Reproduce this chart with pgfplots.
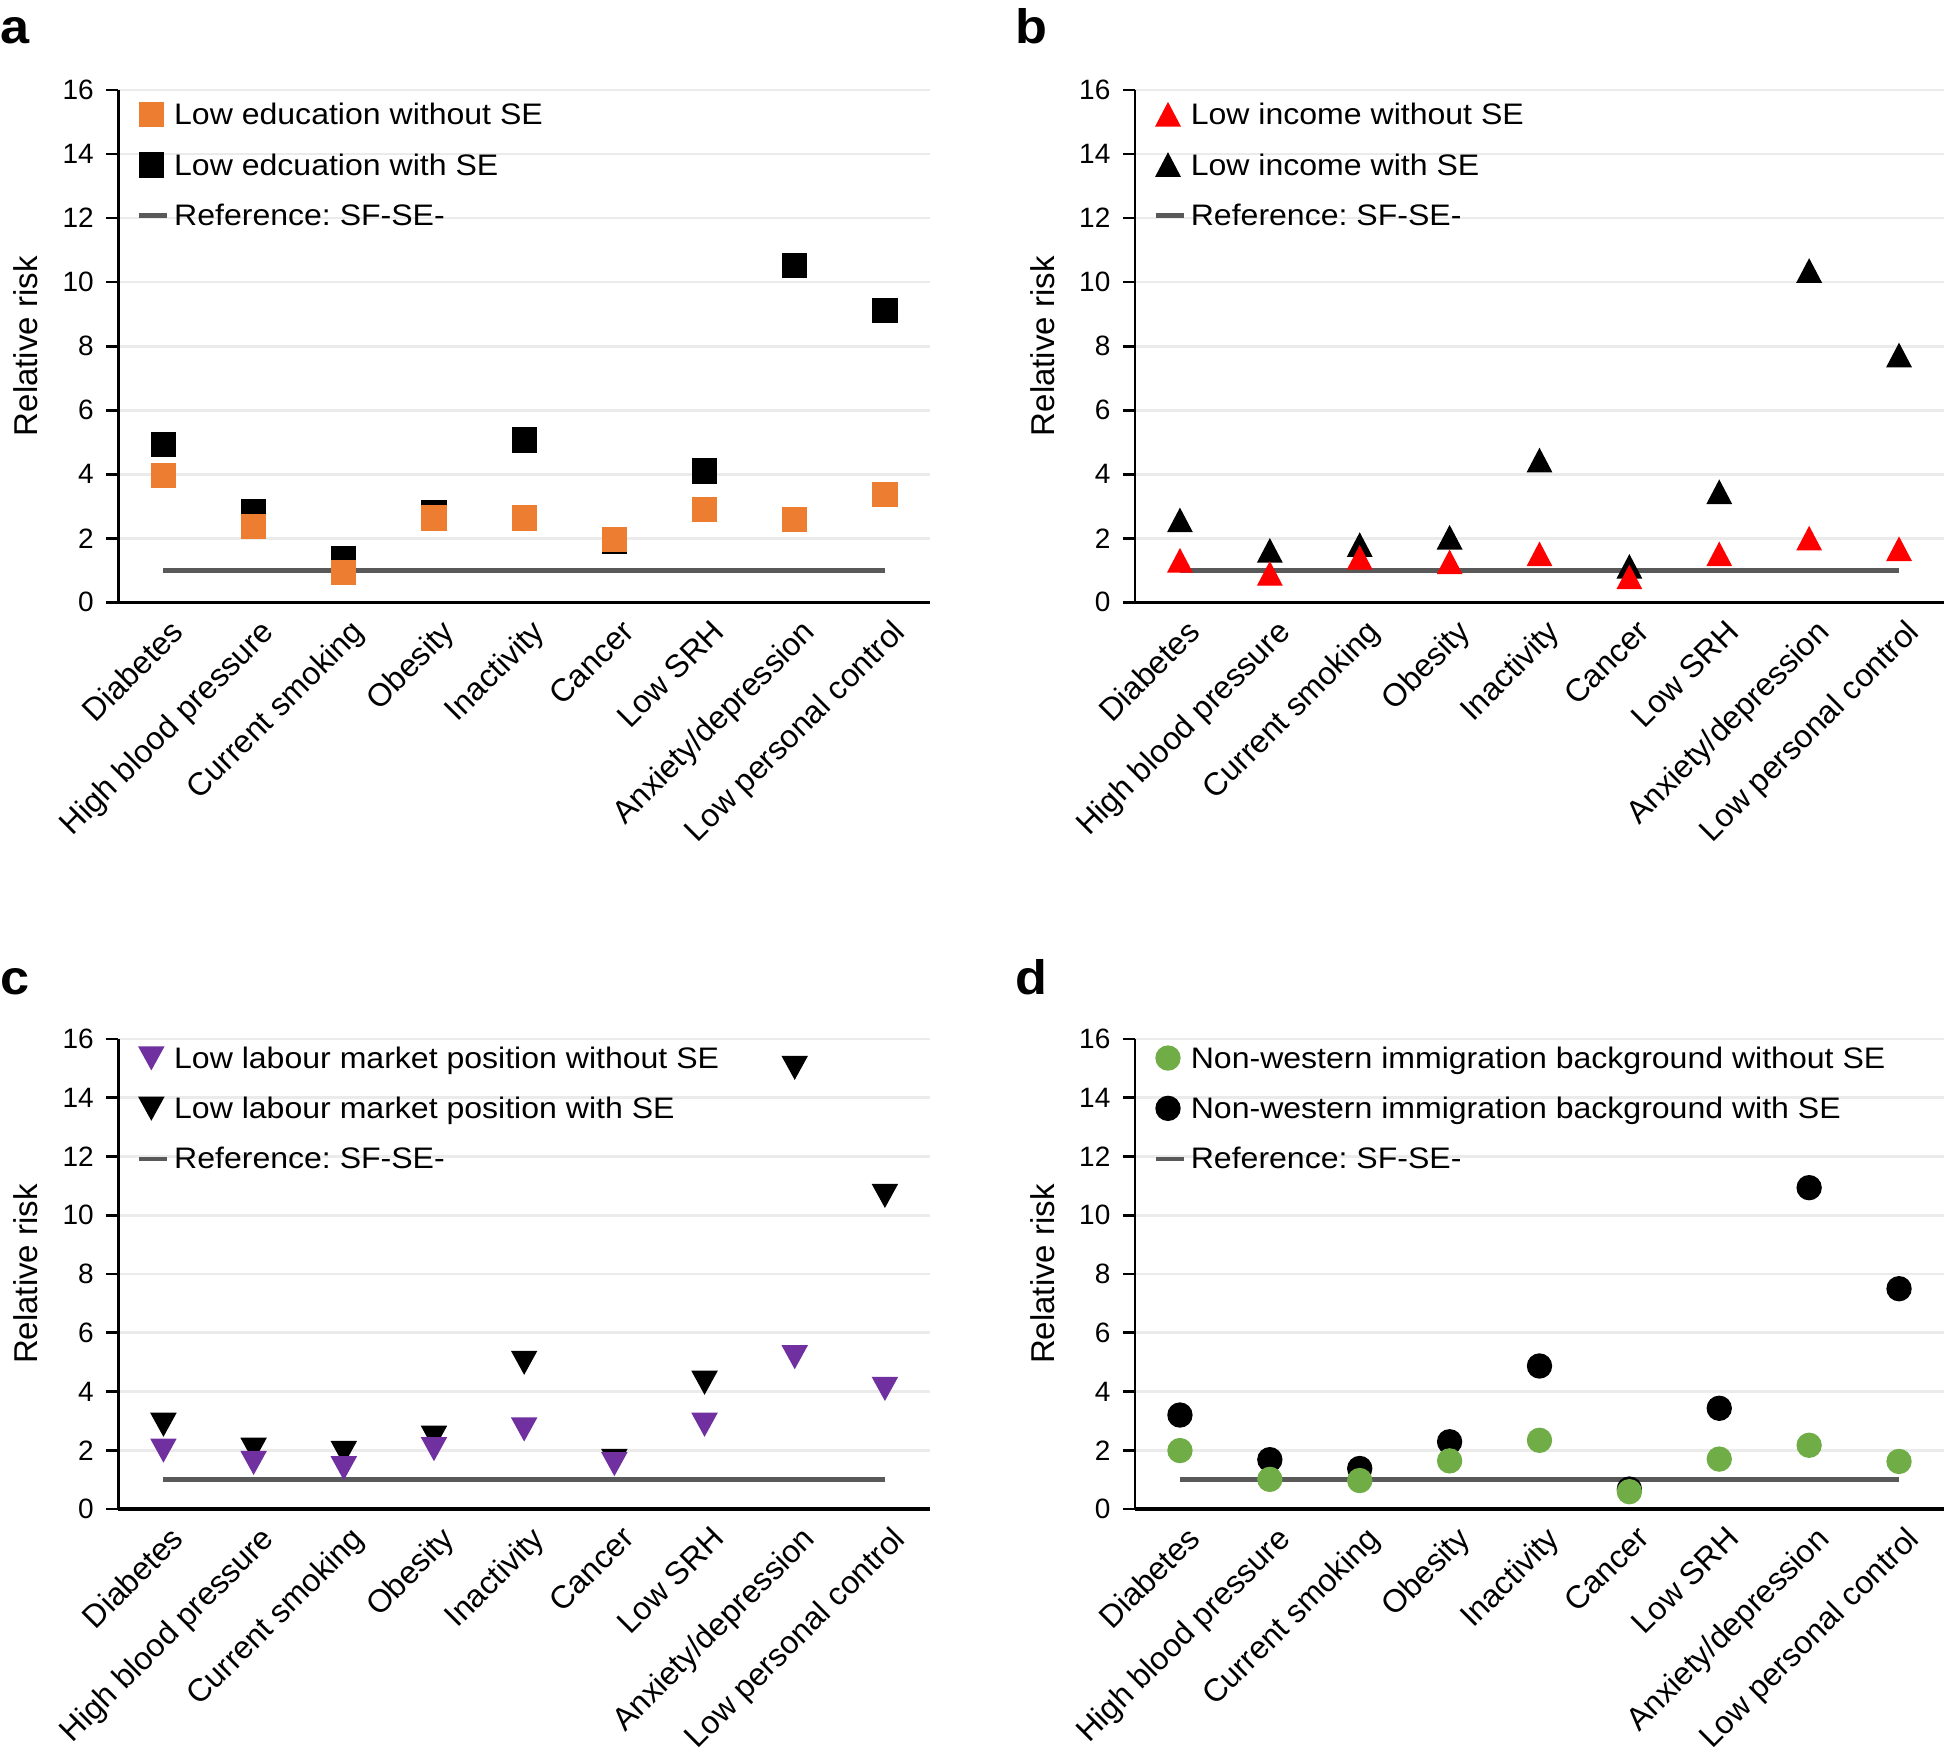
\documentclass[border=0pt]{standalone}
\usepackage{fontspec}
\setmainfont{Liberation Sans}
\newfontfamily\widefont[FakeStretch=1.08]{Liberation Sans}
\usepackage{pgfplots}
\pgfplotsset{compat=1.18}
\frenchspacing

\definecolor{cOrange}{HTML}{ED7D31}
\definecolor{cRed}{HTML}{FF0000}
\definecolor{cPurple}{HTML}{7030A0}
\definecolor{cGreen}{HTML}{70AD47}
\definecolor{cRef}{HTML}{595959}
\definecolor{cGrid}{HTML}{EBEBEB}

\pgfplotsset{
  legmark/.style={legend image code/.code={%
     \path[draw=none, fill=none] (0pt,-4.5pt) rectangle (10.6pt,4.5pt);
     \draw[##1] plot coordinates {(3.75pt,0pt)};}},
  legline/.style={legend image code/.code={%
     \path[draw=none, fill=none] (0pt,-4.5pt) rectangle (10.6pt,4.5pt);
     \draw[##1] (0pt,0pt) -- (8.4pt,0pt);}},
  panel/.style={
    scale only axis,
    xmin=-0.5, xmax=8.5, ymin=0, ymax=16,
    ytick={0,2,...,16},
    xtick={0,...,8},
    xticklabels={Diabetes, High blood pressure, Current smoking, Obesity, Inactivity, Cancer, Low SRH, Anxiety/depression, Low personal control},
    axis lines*=left,
    x axis line style={line width=1.1pt},
    y axis line style={line width=0.8pt},
    tick align=outside,
    major tick length=3.6pt,
    xtick style={draw=none},
    ytick style={line width=0.8pt, black},
    ymajorgrids,
    major grid style={cGrid, line width=0.8pt},
    /pgf/number format/assume math mode=true,
    yticklabel style={font=\fontsize{8.4}{10}\selectfont, inner sep=3.6pt},
    xticklabel style={font=\fontsize{9.6}{11}\selectfont, rotate=45, anchor=north east, inner sep=0pt, xshift=0.6pt, yshift=-1.7pt},
    ylabel={Relative risk},
    every axis y label/.style={at={(axis description cs:-0.1136,0.5)}, rotate=90, anchor=center, font=\fontsize{9.9}{11}\selectfont},
    legend cell align=left,
    reverse legend,
    legend style={draw=none, fill=none, at={(axis description cs:0,1)}, anchor=north west,
      inner sep=0pt, outer sep=0pt, row sep=6.1pt, column sep=0pt, xshift=5.5pt,
      font=\widefont\fontsize{8.9}{10}\selectfont,
      nodes={inner sep=0pt, text height=6pt, text depth=0pt}},
  },
  refline/.style={cRef, line width=1.3pt, legline},
  sq/.style={only marks, mark=square*, mark size=3.6pt, legmark},
  tru/.style={only marks, mark=triangle*, mark size=4.1pt, mark options={yshift=-1.1pt, yscale=1.1}, legmark},
  trd/.style={only marks, mark=triangle*, mark size=4.2pt, mark options={yshift=1.1pt, yscale=1.05, rotate=180}, legmark},
  circ/.style={only marks, mark=*, mark size=3.6pt, legmark},
}

\begin{document}
\begin{tikzpicture}
\useasboundingbox (0pt,0pt) rectangle (583.8pt,-525.6pt);

% ---------- a ----------
\begin{axis}[panel, at={(35.5pt,-180.7pt)}, anchor=south west, width=243.5pt, height=153.7pt,
  legend style={yshift=-2.9pt}]
\addplot[refline] coordinates {(0,1) (8,1)};
\addlegendentry{Reference: SF-SE-}
\addplot[sq, black] coordinates {(0,4.93) (1,2.83) (2,1.35) (3,2.80) (4,5.07) (5,1.91) (6,4.10) (7,10.52) (8,9.12)};
\addlegendentry{Low edcuation with SE}
\addplot[sq, cOrange] coordinates {(0,3.97) (1,2.37) (2,0.94) (3,2.63) (4,2.63) (5,1.96) (6,2.90) (7,2.59) (8,3.36)};
\addlegendentry{Low education without SE}
\end{axis}

% ---------- b ----------
\begin{axis}[panel, at={(340.5pt,-180.7pt)}, anchor=south west, width=242.7pt, height=153.7pt,
  legend style={yshift=-2.9pt}]
\addplot[refline] coordinates {(0,1) (8,1)};
\addlegendentry{Reference: SF-SE-}
\addplot[tru, black] coordinates {(0,2.56) (1,1.61) (2,1.79) (3,2.02) (4,4.43) (5,1.11) (6,3.44) (7,10.35) (8,7.71)};
\addlegendentry{Low income with SE}
\addplot[tru, cRed] coordinates {(0,1.30) (1,0.89) (2,1.39) (3,1.25) (4,1.50) (5,0.78) (6,1.50) (7,1.99) (8,1.66)};
\addlegendentry{Low income without SE}
\end{axis}

% ---------- c ----------
\begin{axis}[panel, at={(35.5pt,-452.7pt)}, anchor=south west, width=243.5pt, height=141pt,
  legend style={yshift=-1.2pt}]
\addplot[refline] coordinates {(0,1) (8,1)};
\addlegendentry{Reference: SF-SE-}
\addplot[trd, black] coordinates {(0,2.88) (1,2.03) (2,1.92) (3,2.44) (4,4.99) (5,1.65) (6,4.31) (7,15.03) (8,10.67)};
\addlegendentry{Low labour market position with SE}
\addplot[trd, cPurple] coordinates {(0,2.00) (1,1.58) (2,1.40) (3,2.05) (4,2.72) (5,1.54) (6,2.88) (7,5.18) (8,4.10)};
\addlegendentry{Low labour market position without SE}
\end{axis}

% ---------- d ----------
\begin{axis}[panel, at={(340.5pt,-452.7pt)}, anchor=south west, width=242.7pt, height=141pt,
  legend style={yshift=-1.2pt}]
\addplot[refline] coordinates {(0,1) (8,1)};
\addlegendentry{Reference: SF-SE-}
\addplot[circ, black] coordinates {(0,3.20) (1,1.68) (2,1.38) (3,2.29) (4,4.87) (5,0.68) (6,3.43) (7,10.94) (8,7.50)};
\addlegendentry{Non-western immigration background with SE}
\addplot[circ, cGreen] coordinates {(0,1.99) (1,1.01) (2,0.97) (3,1.64) (4,2.34) (5,0.59) (6,1.70) (7,2.17) (8,1.62)};
\addlegendentry{Non-western immigration background without SE}
\end{axis}

% panel letters
\node[anchor=base west, inner sep=0pt, font=\widefont\fontsize{14.5}{16}\selectfont\bfseries] at (0pt,-12.9pt) {a};
\node[anchor=base west, inner sep=0pt, font=\widefont\fontsize{14.5}{16}\selectfont\bfseries] at (304.5pt,-12.9pt) {b};
\node[anchor=base west, inner sep=0pt, font=\widefont\fontsize{14.5}{16}\selectfont\bfseries] at (0pt,-298.2pt) {c};
\node[anchor=base west, inner sep=0pt, font=\widefont\fontsize{14.5}{16}\selectfont\bfseries] at (304.5pt,-298.2pt) {d};
\end{tikzpicture}
\end{document}
